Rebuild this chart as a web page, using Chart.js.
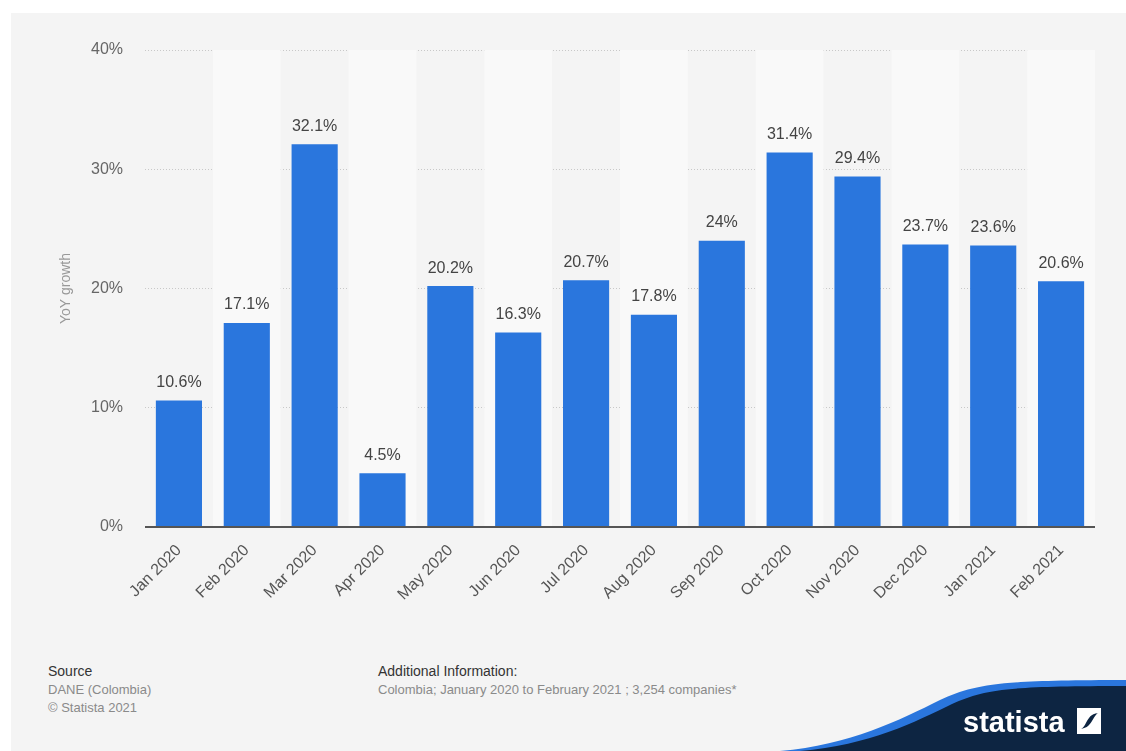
<!DOCTYPE html>
<html>
<head>
<meta charset="utf-8">
<script src="https://cdn.jsdelivr.net/npm/chart.js@4.4.1/dist/chart.umd.min.js"></script>
<style>
  body { margin: 0; background: #ffffff; font-family: "Liberation Sans", Arial, sans-serif; }
  #panel { position: absolute; left: 11px; top: 13px; width: 1115px; height: 738px; background: #f4f4f4; overflow: hidden; }
  #chartBox { position: absolute; left: 0; top: 0; width: 1126px; height: 640px; }
  .foot { position: absolute; font-size: 13px; line-height: 18px; color: #8a8a8a; }
  .foot b { font-weight: normal; color: #333; font-size: 14px; }
  #logo { position: absolute; left: 0; top: 0; }
</style>
</head>
<body>
<div id="panel"></div>
<div id="chartBox"><canvas id="growthChart"></canvas></div>

<div class="foot" style="left:48px; top:662px;"><b>Source</b><br>DANE (Colombia)<br>© Statista 2021</div>
<div class="foot" style="left:378px; top:662px;"><b>Additional Information:</b><br>Colombia; January 2020 to February 2021 ; 3,254 companies*</div>

<svg id="logo" width="1126" height="751">
  <path d="M780 751 C 850 745, 900 720, 940 700 C 975 684, 1000 680, 1126 680 L 1126 751 Z" fill="#2a76dd"/>
  <path d="M800 751 C 870 745, 915 722, 952 704 C 985 689, 1010 686, 1126 686 L 1126 751 Z" fill="#0d2542"/>
  <text x="963" y="732" font-family="Liberation Sans, Arial" font-weight="bold" font-size="29" fill="#ffffff">statista</text>
  <path d="M1077 708 H1101 V713 C1092 713, 1090 716, 1087 721 C1084 727, 1082 730, 1077 730 Z" fill="#ffffff"/>
  <path d="M1101 734 H1077 V729 C1086 729, 1089 726, 1092 721 C1095 716, 1097 712, 1101 712 Z" fill="#ffffff"/>
</svg>

<script>
// ================= DATA =================

const months = [
    "Jan 2020", "Feb 2020", "Mar 2020", "Apr 2020", "May 2020", "Jun 2020", "Jul 2020",
    "Aug 2020", "Sep 2020", "Oct 2020", "Nov 2020", "Dec 2020", "Jan 2021", "Feb 2021"
];

const growth = [10.6, 17.1, 32.1, 4.5, 20.2, 16.3, 20.7, 17.8, 24, 31.4, 29.4, 23.7, 23.6, 20.6];

const yTicks = [0, 10, 20, 30, 40];


// ================= PLUGINS =================

// light stripes behind every second category
const stripes = {
    id: "stripes",
    beforeDatasetsDraw(chart) {
        const { ctx, chartArea, scales } = chart;
        const x = scales.x;
        const w = x.width / months.length;
        ctx.save();
        ctx.fillStyle = "#f9f9f9";
        months.forEach((m, i) => {
            if (i % 2 === 1) {
                const cx = x.getPixelForValue(i);
                ctx.fillRect(cx - w / 2, chartArea.top, w, chartArea.bottom - chartArea.top);
            }
        });
        ctx.restore();
    }
};

// value labels above the bars + baseline on top of the bars
const valueLabels = {
    id: "valueLabels",
    afterDatasetsDraw(chart) {
        const { ctx, chartArea } = chart;
        const meta = chart.getDatasetMeta(0);
        ctx.save();
        ctx.strokeStyle = "#555";
        ctx.lineWidth = 2;
        ctx.beginPath();
        ctx.moveTo(chartArea.left, chartArea.bottom);
        ctx.lineTo(chartArea.right, chartArea.bottom);
        ctx.stroke();

        ctx.font = "16px 'Liberation Sans', Arial, sans-serif";
        ctx.fillStyle = "#444";
        ctx.textAlign = "center";
        ctx.textBaseline = "bottom";
        meta.data.forEach((bar, i) => {
            ctx.fillText(growth[i] + "%", bar.x, bar.y - 10);
        });
        ctx.restore();
    }
};


// ================= BAR CHART =================

Chart.defaults.font.family = "'Liberation Sans', Arial, sans-serif";

new Chart(document.getElementById("growthChart"), {

    type: "bar",

    data: {
        labels: months,
        datasets: [{
            data: growth,
            backgroundColor: "#2a76dd",
            barPercentage: 0.68,
            categoryPercentage: 1
        }]
    },

    options: {
        responsive: true,
        maintainAspectRatio: false,
        animation: false,
        layout: {
            padding: { top: 50, right: 31, left: 58, bottom: 0 }
        },
        plugins: {
            legend: { display: false },
            tooltip: { enabled: false }
        },
        scales: {
            x: {
                grid: { display: false },
                border: { display: false },
                ticks: {
                    color: "#555",
                    font: { size: 16 },
                    minRotation: 45,
                    maxRotation: 45,
                    padding: 6
                },
                afterFit(scale) { scale.height = 113; }
            },
            y: {
                min: 0,
                max: 40,
                afterBuildTicks(scale) {
                    scale.ticks = yTicks.map(v => ({ value: v }));
                },
                grid: {
                    color: (c) => c.tick.value === 0 ? "rgba(0,0,0,0)" : "#c8c8c8",
                    drawTicks: false
                },
                border: { display: false, dash: [1, 2] },
                ticks: {
                    color: "#666",
                    font: { size: 16 },
                    padding: 22,
                    callback: (v) => v + "%"
                },
                title: {
                    display: true,
                    text: "YoY growth",
                    color: "#999",
                    font: { size: 14 },
                    padding: 0
                },
                afterFit(scale) { scale.width = 87; }
            }
        }
    },

    plugins: [stripes, valueLabels]

});
</script>
</body>
</html>
